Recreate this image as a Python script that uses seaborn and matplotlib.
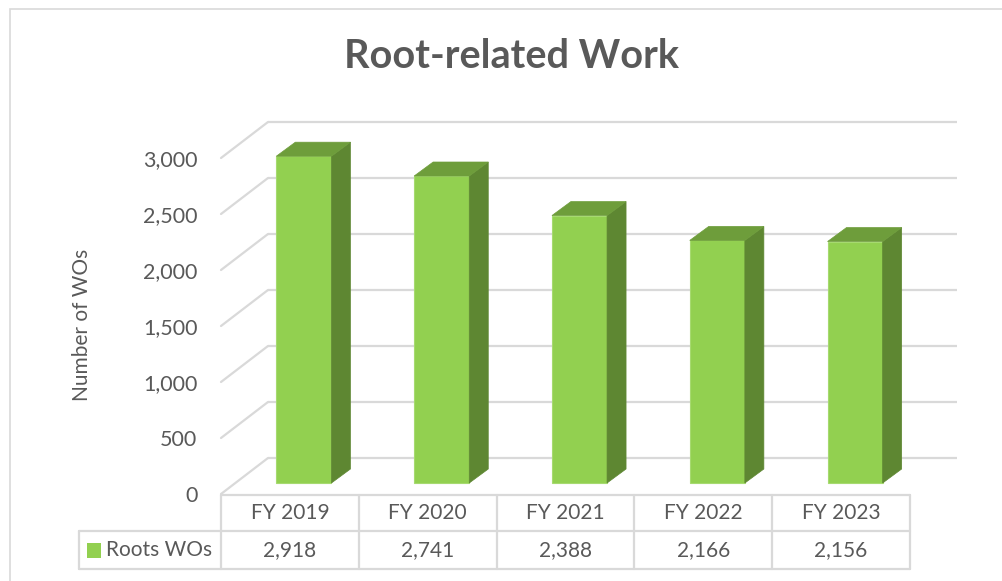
import matplotlib
matplotlib.use('Agg')
import matplotlib.pyplot as plt
import matplotlib.transforms as mtransforms
from matplotlib.patches import Polygon, Rectangle
from matplotlib.lines import Line2D
import seaborn as sns
import pandas as pd

# data
years = ['FY 2019', 'FY 2020', 'FY 2021', 'FY 2022', 'FY 2023']
roots_wos = [2918, 2741, 2388, 2166, 2156]
y_ticks = [0, 500, 1000, 1500, 2000, 2500, 3000]
series_name = 'Roots WOs'

df = pd.DataFrame({'Year': years, 'WOs': roots_wos})

sns.set_style('white')
plt.rcParams['font.family'] = ['Lato', 'DejaVu Sans']

front_col = '#92D050'
side_col = '#5E8732'
top_col = '#6E9D3B'
grid_col = '#D9D9D9'
text_col = '#595959'

W, H = 1002, 581
fig = plt.figure(figsize=(W / 100, H / 100), dpi=100)

def px(x, y):
    # pixel (from top-left) -> figure fraction
    return x / W, 1 - y / H

# axes = front plane of the 3D box
ax_left, ax_right, ax_top, ax_bot = 221, 910, 158, 494
ax = fig.add_axes([ax_left / W, 1 - ax_bot / H, (ax_right - ax_left) / W, (ax_bot - ax_top) / H])
ax.set_xlim(-0.5, 4.5)
ax.set_ylim(0, 3000)
ax.patch.set_alpha(0)
for s in ax.spines.values():
    s.set_visible(False)

# depth offsets (pixels)
wall_dx, wall_dy = 47, 36
bar_dx, bar_dy = 14, 11
bar_depth_x, bar_depth_y = 19, 14

# back wall gridlines
back = mtransforms.offset_copy(ax.transData, fig, x=wall_dx, y=wall_dy, units='dots')
ax.hlines(y_ticks, -0.5, 4.5, colors=grid_col, lw=1.6, transform=back, zorder=0, clip_on=False)
# side wall diagonals
for v in y_ticks:
    x0, y0 = ax.transData.transform((-0.5, v))
    ln = Line2D([x0, x0 + wall_dx], [y0, y0 + wall_dy], color=grid_col, lw=1.6,
                transform=mtransforms.IdentityTransform(), zorder=0)
    fig.add_artist(ln)

# bars (front faces)
sns.barplot(data=df, x='Year', y='WOs', color=front_col, width=0.4, ax=ax,
            saturation=1, edgecolor='#A6DA70', linewidth=0.8, zorder=3)
shift = mtransforms.offset_copy(ax.transData, fig, x=bar_dx, y=bar_dy, units='dots')
fig.canvas.draw()
for p in ax.patches:
    p.set_transform(shift)
    p.set_clip_on(False)
    (x0, y0), (x1, y1) = shift.transform([(p.get_x(), p.get_y()),
                                          (p.get_x() + p.get_width(), p.get_y() + p.get_height())])
    side = Polygon([(x1, y0), (x1 + bar_depth_x, y0 + bar_depth_y),
                    (x1 + bar_depth_x, y1 + bar_depth_y), (x1, y1)],
                   closed=True, facecolor=side_col, edgecolor=side_col, lw=0.5,
                   transform=mtransforms.IdentityTransform(), zorder=2)
    top = Polygon([(x0, y1), (x1, y1), (x1 + bar_depth_x, y1 + bar_depth_y),
                   (x0 + bar_depth_x, y1 + bar_depth_y)],
                  closed=True, facecolor=top_col, edgecolor=top_col, lw=0.5,
                  transform=mtransforms.IdentityTransform(), zorder=2)
    fig.add_artist(side)
    fig.add_artist(top)

ax.set_yticks(y_ticks)
ax.set_yticklabels([f'{v:,}' for v in y_ticks], fontsize=15.5, color=text_col)
ax.tick_params(axis='y', length=0, pad=17)
ax.set_xticks([])
ax.set_xlabel('')
ax.set_ylabel('Number of WOs', fontsize=15, color=text_col, va='center')
ax.yaxis.set_label_coords((82 - ax_left) / (ax_right - ax_left), (ax_bot - 325) / (ax_bot - ax_top))

# title
fig.text(*px(512, 57), 'Root-related Work', ha='center', va='center',
         fontsize=28.5, fontweight='bold', color=text_col)

# data table under the plot
row_top, row_mid, row_bot = 495, 531, 569
col_edges = [221, 359, 497, 634, 772, 910]
tbl_kw = dict(color=grid_col, lw=1.6, transform=fig.transFigure)
fig.add_artist(Line2D([px(221, 0)[0], px(910, 0)[0]], [px(0, row_top)[1]] * 2, **tbl_kw))
fig.add_artist(Line2D([px(79, 0)[0], px(910, 0)[0]], [px(0, row_mid)[1]] * 2, **tbl_kw))
fig.add_artist(Line2D([px(79, 0)[0], px(910, 0)[0]], [px(0, row_bot)[1]] * 2, **tbl_kw))
for xe in col_edges:
    fig.add_artist(Line2D([px(xe, 0)[0]] * 2, [px(0, row_top)[1], px(0, row_bot)[1]], **tbl_kw))
fig.add_artist(Line2D([px(79, 0)[0]] * 2, [px(0, row_mid)[1], px(0, row_bot)[1]], **tbl_kw))

col_tr = mtransforms.blended_transform_factory(ax.transData, fig.transFigure)
for i, (yr, v) in enumerate(zip(years, roots_wos)):
    ax.text(i, px(0, 513)[1], yr, transform=col_tr, ha='center', va='center',
            fontsize=15, color=text_col)
    ax.text(i, px(0, 550)[1], f'{v:,}', transform=col_tr, ha='center', va='center',
            fontsize=15, color=text_col)

# legend key in the table
fig.add_artist(Rectangle(px(87, 558), 14 / W, 15 / H, transform=fig.transFigure,
                         facecolor=front_col, edgecolor='none'))
fig.text(*px(106, 550), series_name, ha='left', va='center', fontsize=15, color=text_col)

# chart border
fig.add_artist(Rectangle(px(10, 600), 1.2, (600 - 9) / H, transform=fig.transFigure,
                         facecolor='none', edgecolor=grid_col, lw=1.2))

fig.savefig('out.png', dpi=100)
